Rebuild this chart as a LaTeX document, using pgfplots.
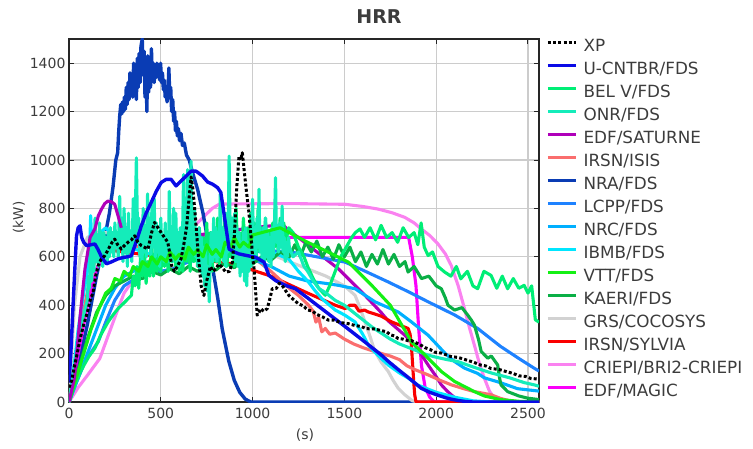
\documentclass[border=0pt]{standalone}
\usepackage{pgfplots}
\pgfplotsset{compat=1.18}
\usepackage{fontspec}
\setmainfont{DejaVu Sans}
\definecolor{cUC}{RGB}{10,10,230}
\definecolor{cBEL}{RGB}{0,238,118}
\definecolor{cONR}{RGB}{20,236,186}
\definecolor{cSAT}{RGB}{175,0,185}
\definecolor{cISIS}{RGB}{250,110,110}
\definecolor{cNRA}{RGB}{10,60,180}
\definecolor{cLCPP}{RGB}{30,130,255}
\definecolor{cNRC}{RGB}{0,175,255}
\definecolor{cIBMB}{RGB}{0,230,255}
\definecolor{cVTT}{RGB}{20,240,20}
\definecolor{cKAERI}{RGB}{10,175,70}
\definecolor{cGRS}{RGB}{210,210,210}
\definecolor{cSYL}{RGB}{250,0,0}
\definecolor{cCRI}{RGB}{250,130,240}
\definecolor{cMAG}{RGB}{250,0,250}
\definecolor{txt}{RGB}{60,60,60}
\pgfplotsset{
  sXP/.style={black, line width=3pt, dash pattern=on 3pt off 2.2pt},
  sUC/.style={cUC, line width=3.4pt},
  sBEL/.style={cBEL, line width=3.1pt},
  sONR/.style={cONR, line width=3.1pt},
  sSAT/.style={cSAT, line width=3.1pt},
  sISIS/.style={cISIS, line width=3.1pt},
  sNRA/.style={cNRA, line width=3.4pt},
  sLCPP/.style={cLCPP, line width=3.1pt},
  sNRC/.style={cNRC, line width=3.1pt},
  sIBMB/.style={cIBMB, line width=3.1pt},
  sVTT/.style={cVTT, line width=3.1pt},
  sKAERI/.style={cKAERI, line width=3.1pt},
  sGRS/.style={cGRS, line width=3.1pt},
  sSYL/.style={cSYL, line width=3.1pt},
  sCRI/.style={cCRI, line width=3.1pt},
  sMAG/.style={cMAG, line width=3.1pt},
}
\begin{document}
\begin{tikzpicture}[x=1pt,y=1pt]
\useasboundingbox (0,0) rectangle (753,448);
\begin{axis}[
  at={(69pt,46pt)}, anchor=south west, scale only axis,
  width=470pt, height=363pt,
  xmin=0, xmax=2560, ymin=0, ymax=1500,
  xtick={0,500,...,2500}, ytick={0,200,...,1400},
  grid=major, major grid style={color=black!20, line width=1.2pt},
  axis line style={color=black!85, line width=1.4pt},
  tick style={color=black!85, line width=1pt}, tick align=inside, major tick length=5pt,
  ticklabel style={font=\fontsize{14}{16}\selectfont, text=txt},
  xticklabel style={yshift=-3pt},
  /pgf/number format/assume math mode=true, /pgf/number format/1000 sep={},
  legend style={draw=none, fill=none, at={(1,1)}, anchor=north west, xshift=7pt, yshift=-1pt,
    inner sep=0pt, font=\fontsize{16.8}{18}\selectfont, text=txt, row sep=8pt,
    nodes={text height=11pt, text depth=4pt, inner sep=0pt},
    /tikz/every odd column/.append style={column sep=6pt}},
  legend cell align=left,
  legend image code/.code={\draw[#1] (0pt,5.5pt) -- (28pt,5.5pt);},
  every axis plot/.append style={line join=round},
]
% CRIEPI
\addplot[sCRI, forget plot] coordinates {(0,0) (50,60) (100,110) (168,180) (250,350) (300,450) (400,560) (500,620) (600,680) (700,740) (780,800) (820,818) (1200,820) (1504,817) (1600,808) (1685,797) (1760,782) (1829,763) (1880,740) (1919,715) (1965,688) (2010,653) (2050,612) (2082,564) (2120,480) (2154,386) (2180,310) (2208,235) (2235,160) (2262,99) (2290,45) (2316,16) (2340,0) (2560,0)};
% NRA
\addplot[sNRA, forget plot] coordinates {(0,0) (50,150) (100,320) (150,520) (190,660) (220,780) (240,890) (255,1000) (265,1030) (271,1120) (276,1180) (282,1230) (287,1190) (292,1240) (297,1200) (302,1260) (307,1210) (312,1300) (317,1230) (322,1320) (327,1250) (332,1360) (337,1270) (342,1350) (347,1260) (352,1400) (357,1290) (362,1380) (367,1250) (372,1420) (377,1300) (382,1440) (387,1320) (392,1470) (399,1500) (404,1350) (409,1450) (414,1260) (419,1420) (424,1200) (429,1430) (434,1280) (439,1400) (444,1300) (449,1460) (454,1330) (459,1400) (464,1320) (469,1390) (474,1340) (479,1400) (484,1350) (489,1380) (494,1330) (499,1400) (504,1320) (509,1360) (514,1290) (519,1330) (524,1260) (529,1300) (534,1240) (539,1280) (544,1380) (549,1260) (554,1300) (559,1200) (565,1250) (570,1160) (575,1200) (580,1120) (585,1160) (590,1100) (596,1130) (602,1080) (610,1110) (618,1060) (628,1070) (640,1020) (655,1000) (672,950) (700,880) (730,780) (760,650) (790,520) (810,430) (835,300) (870,170) (900,90) (930,40) (960,12) (990,0) (2560,0)};
% GRS
\addplot[sGRS, forget plot] coordinates {(0,0) (30,400) (60,600) (100,680) (150,700) (200,700) (300,690) (400,680) (600,670) (800,660) (1000,640) (1200,580) (1400,520) (1500,480) (1558,441) (1585,390) (1612,331) (1640,270) (1667,208) (1700,165) (1739,126) (1765,90) (1793,57) (1829,30) (1870,5) (1900,0) (2560,0)};
% MAGIC
\addplot[sMAG, forget plot] coordinates {(0,0) (50,200) (100,400) (150,550) (200,620) (300,660) (500,680) (800,690) (1100,685) (1200,680) (1850,680) (1870,600) (1890,480) (1905,300) (1920,150) (1940,60) (1965,20) (1990,0) (2560,0)};
% SATURNE (after 300 s)
\addplot[sSAT, forget plot] coordinates {(285,720) (300,690) (400,660) (500,650) (600,670) (700,690) (800,700) (900,710) (1000,720) (1100,728) (1170,728) (1197,710) (1300,650) (1400,590) (1468,550) (1600,450) (1700,370) (1739,335) (1829,276) (1883,235) (1920,195) (1956,153) (2000,105) (2028,71) (2060,45) (2082,30) (2110,12) (2140,3) (2170,0) (2560,0)};
% SYLVIA
\addplot[sSYL, forget plot] coordinates {(0,0) (50,250) (105,468) (141,591) (195,630) (300,620) (500,600) (700,590) (900,570) (1100,520) (1300,450) (1450,400) (1504,386) (1530,400) (1558,400) (1580,375) (1610,380) (1630,372) (1660,365) (1700,355) (1757,331) (1800,318) (1847,304) (1858,280) (1865,235) (1872,150) (1878,80) (1883,30) (1890,0) (2560,0)};
% ISIS
\addplot[sISIS, forget plot] coordinates {(0,0) (50,250) (105,468) (141,591) (195,646) (250,680) (300,650) (400,640) (500,660) (600,640) (700,630) (800,620) (900,620) (1000,600) (1100,540) (1200,470) (1250,440) (1305,400) (1330,375) (1345,330) (1360,350) (1377,290) (1396,304) (1420,280) (1450,285) (1500,260) (1550,240) (1600,225) (1667,208) (1750,190) (1800,175) (1840,150) (1880,135) (1956,112) (2020,90) (2082,71) (2150,55) (2208,43) (2299,30) (2350,15) (2400,5) (2450,0) (2560,0)};
% LCPP
\addplot[sLCPP, forget plot] coordinates {(0,0) (40,80) (87,167) (159,249) (200,330) (249,420) (300,480) (400,530) (500,540) (565,550) (620,570) (700,590) (800,600) (900,610) (1000,620) (1100,625) (1215,619) (1350,600) (1504,578) (1600,545) (1739,496) (1850,455) (1956,414) (2100,360) (2226,304) (2350,230) (2450,180) (2533,140) (2560,128)};
% NRC
\addplot[sNRC, forget plot] coordinates {(0,0) (50,100) (100,200) (150,300) (200,400) (250,470) (300,520) (400,560) (500,580) (600,590) (700,600) (800,610) (900,600) (1000,590) (1100,560) (1200,520) (1300,500) (1400,490) (1468,482) (1558,468) (1667,414) (1793,372) (1865,331) (1956,276) (2050,200) (2100,167) (2154,140) (2226,118) (2262,100) (2350,80) (2443,55) (2560,45)};
% IBMB
\addplot[sIBMB, forget plot] coordinates {(0,0) (20,100) (50,300) (80,450) (100,540) (112,620) (118,770) (125,640) (140,660) (170,700) (200,720) (250,680) (300,650) (400,620) (500,600) (600,610) (700,620) (800,640) (900,650) (1000,650) (1100,620) (1197,591) (1250,540) (1300,500) (1340,460) (1377,427) (1450,380) (1500,360) (1558,331) (1600,280) (1630,235) (1700,180) (1739,153) (1800,120) (1847,99) (1900,70) (2000,40) (2100,20) (2200,5) (2300,0) (2560,0)};
% KAERI
\addplot[sKAERI, forget plot] coordinates {(0,0) (50,130) (100,260) (150,370) (200,440) (250,480) (300,500) (350,520) (400,510) (450,540) (500,525) (550,550) (600,530) (650,560) (700,540) (750,570) (800,545) (850,575) (900,555) (950,590) (1000,570) (1050,600) (1100,585) (1150,620) (1200,600) (1230,650) (1260,600) (1290,660) (1320,620) (1350,665) (1380,600) (1410,640) (1440,590) (1470,650) (1500,600) (1530,640) (1560,580) (1590,620) (1620,560) (1650,610) (1680,570) (1710,630) (1740,570) (1770,610) (1800,560) (1830,580) (1847,537) (1880,560) (1920,510) (1960,520) (2000,480) (2028,468) (2050,430) (2064,400) (2100,380) (2140,390) (2172,359) (2190,340) (2208,318) (2230,260) (2245,209) (2281,181) (2300,190) (2335,153) (2345,100) (2353,71) (2389,43) (2450,25) (2497,16) (2560,10)};
% BEL V
\addplot[sBEL, forget plot] coordinates {(0,0) (32,71) (60,120) (80,150) (110,190) (141,222) (175,280) (213,331) (240,360) (267,386) (300,410) (340,441) (350,520) (360,480) (370,560) (380,470) (390,600) (400,520) (410,640) (420,490) (430,580) (440,520) (450,660) (460,520) (470,600) (480,540) (490,700) (500,540) (510,620) (520,560) (530,680) (540,540) (550,640) (560,580) (570,720) (580,560) (590,660) (600,540) (610,700) (620,540) (630,760) (640,580) (650,680) (660,540) (670,760) (680,580) (690,700) (700,560) (710,720) (720,540) (730,680) (740,520) (750,740) (760,560) (770,700) (780,540) (790,720) (800,580) (810,760) (820,560) (830,700) (840,600) (850,780) (860,560) (870,680) (880,600) (890,740) (900,560) (910,800) (920,600) (930,700) (940,580) (950,760) (960,600) (970,720) (980,560) (990,780) (1000,600) (1010,740) (1020,600) (1030,800) (1040,620) (1050,720) (1060,600) (1070,760) (1080,620) (1090,700) (1100,600) (1110,740) (1120,640) (1130,700) (1140,620) (1150,760) (1160,660) (1170,740) (1180,660) (1197,720) (1220,700) (1250,640) (1280,600) (1300,560) (1330,510) (1360,470) (1396,441) (1420,480) (1450,540) (1480,600) (1510,640) (1540,680) (1560,700) (1585,715) (1610,680) (1640,720) (1670,670) (1700,730) (1730,680) (1760,700) (1790,660) (1820,720) (1850,680) (1880,700) (1900,650) (1918,740) (1935,640) (1956,605) (1980,620) (2010,560) (2046,537) (2080,520) (2110,560) (2134,509) (2170,540) (2200,480) (2226,468) (2260,540) (2299,523) (2330,470) (2360,520) (2389,468) (2420,510) (2450,470) (2479,482) (2500,450) (2520,480) (2540,340) (2560,330)};
% ONR
\addplot[sONR, forget plot] coordinates {(0,0) (30,150) (60,300) (100,420) (106,520) (112,470) (118,640) (124,500) (130,700) (136,540) (142,760) (148,580) (154,690) (160,560) (166,740) (172,600) (178,700) (184,560) (190,700) (196,600) (202,680) (208,580) (214,700) (220,600) (226,720) (232,620) (238,700) (244,600) (250,740) (256,640) (262,700) (268,600) (276,850) (282,640) (288,760) (294,580) (300,800) (306,620) (312,720) (318,560) (324,780) (330,620) (336,700) (342,580) (350,840) (358,640) (367,1009) (374,660) (380,760) (386,600) (392,720) (398,580) (404,800) (410,620) (416,700) (422,600) (428,860) (434,640) (440,760) (446,600) (452,820) (458,640) (464,840) (470,600) (476,740) (482,620) (488,700) (494,560) (500,760) (506,600) (512,680) (518,580) (524,740) (530,600) (536,700) (542,580) (546,870) (552,640) (558,720) (564,580) (570,800) (576,620) (582,780) (588,580) (594,700) (600,560) (606,720) (612,580) (618,660) (624,940) (630,680) (636,760) (642,620) (646,960) (652,640) (658,720) (665,995) (672,620) (678,740) (684,800) (690,600) (696,700) (702,560) (708,720) (714,540) (720,680) (726,520) (732,640) (738,480) (744,620) (750,460) (756,560) (764,414) (770,620) (776,700) (782,580) (788,760) (794,600) (800,720) (806,580) (812,700) (818,600) (824,860) (830,620) (836,720) (842,580) (848,700) (854,560) (860,780) (866,620) (872,1016) (878,700) (884,640) (890,760) (896,600) (902,780) (908,580) (914,720) (920,560) (926,700) (932,520) (938,660) (944,540) (950,700) (956,500) (962,720) (968,480) (974,660) (980,540) (986,640) (992,560) (1000,838) (1006,620) (1012,720) (1018,600) (1024,760) (1030,640) (1035,879) (1040,620) (1046,700) (1052,580) (1058,720) (1064,560) (1070,760) (1076,600) (1082,700) (1088,580) (1094,680) (1100,560) (1106,720) (1112,600) (1118,700) (1125,927) (1130,660) (1136,720) (1142,620) (1148,740) (1154,640) (1161,810) (1166,620) (1172,680) (1178,580) (1184,660) (1190,600) (1196,680) (1200,640) (1220,600) (1250,620) (1280,560) (1300,540) (1330,500) (1360,470) (1400,450) (1450,420) (1500,400) (1550,370) (1600,340) (1650,310) (1700,285) (1750,260) (1800,240) (1850,225) (1900,210) (1950,195) (2000,185) (2060,175) (2118,167) (2200,145) (2300,120) (2400,100) (2480,80) (2533,71) (2560,65)};
% VTT
\addplot[sVTT, forget plot] coordinates {(0,0) (40,100) (80,200) (120,300) (160,380) (200,450) (230,470) (250,510) (280,500) (300,540) (330,520) (350,560) (380,540) (400,580) (430,560) (450,600) (480,570) (500,600) (530,580) (550,620) (580,590) (600,610) (630,590) (650,640) (680,610) (700,630) (730,600) (750,650) (780,610) (800,630) (830,600) (850,660) (880,640) (900,680) (930,640) (950,660) (980,640) (1000,690) (1050,700) (1100,710) (1150,720) (1200,700) (1300,660) (1414,619) (1522,578) (1649,482) (1750,400) (1865,249) (1956,181) (2028,126) (2100,85) (2208,43) (2262,25) (2350,10) (2450,3) (2560,0)};
% SATURNE (first 300 s, drawn on top)
\addplot[sSAT, forget plot] coordinates {(0,0) (30,100) (60,350) (87,550) (115,680) (141,715) (160,770) (177,797) (195,820) (211,830) (230,828) (249,817) (267,770) (285,720)};
% U-CNTBR
\addplot[sUC, forget plot] coordinates {(0,80) (10,200) (23,413) (35,600) (41,687) (50,720) (60,728) (69,680) (80,660) (96,646) (120,650) (141,653) (157,632) (177,600) (204,571) (231,579) (265,591) (300,598) (320,600) (340,605) (365,660) (394,728) (420,780) (448,825) (475,870) (502,907) (529,920) (556,920) (583,893) (610,913) (640,935) (665,954) (692,954) (727,934) (755,909) (782,900) (809,886) (827,866) (840,800) (854,728) (872,632) (900,620) (926,612) (970,605) (1017,598) (1062,578) (1089,523) (1125,502) (1179,482) (1233,468) (1300,430) (1400,372) (1500,314) (1600,255) (1700,195) (1739,168) (1800,130) (1850,100) (1918,57) (1965,40) (2010,28) (2050,18) (2080,12) (2120,6) (2160,2) (2200,0) (2560,0)};
% XP
\addplot[sXP, forget plot] coordinates {(0,60) (15,90) (30,150) (45,200) (60,260) (80,320) (100,370) (115,420) (130,450) (145,520) (159,564) (175,590) (195,605) (210,625) (220,640) (235,660) (249,673) (265,650) (285,632) (300,645) (321,660) (340,670) (358,687) (375,660) (394,646) (410,640) (430,632) (450,700) (466,742) (485,720) (502,700) (520,680) (538,660) (550,610) (560,560) (574,540) (590,560) (610,591) (625,650) (640,720) (655,850) (665,930) (675,880) (690,750) (705,600) (720,480) (735,440) (750,500) (770,560) (785,540) (800,550) (815,570) (830,560) (854,537) (875,540) (890,578) (900,680) (908,800) (915,900) (926,1016) (935,1000) (944,1030) (955,950) (968,860) (980,783) (992,680) (1000,600) (1008,550) (1017,450) (1025,359) (1035,370) (1044,386) (1060,375) (1080,386) (1095,430) (1107,468) (1130,470) (1145,490) (1161,482) (1180,460) (1197,441) (1220,425) (1251,405) (1275,398) (1300,380) (1325,376) (1350,362) (1380,352) (1414,338) (1445,338) (1480,328) (1520,324) (1558,316) (1590,312) (1620,303) (1660,302) (1703,295) (1730,290) (1750,278) (1775,272) (1793,262) (1820,260) (1847,253) (1865,254) (1883,247) (1910,238) (1940,224) (1965,218) (1992,206) (2030,202) (2080,188) (2120,184) (2172,172) (2205,164) (2240,153) (2270,149) (2299,138) (2340,135) (2389,124) (2420,118) (2450,108) (2485,106) (2516,97) (2560,95)};
% legend
\addlegendimage{sXP}\addlegendentry{XP}
\addlegendimage{sUC}\addlegendentry{U-CNTBR/FDS}
\addlegendimage{sBEL}\addlegendentry{BEL V/FDS}
\addlegendimage{sONR}\addlegendentry{ONR/FDS}
\addlegendimage{sSAT}\addlegendentry{EDF/SATURNE}
\addlegendimage{sISIS}\addlegendentry{IRSN/ISIS}
\addlegendimage{sNRA}\addlegendentry{NRA/FDS}
\addlegendimage{sLCPP}\addlegendentry{LCPP/FDS}
\addlegendimage{sNRC}\addlegendentry{NRC/FDS}
\addlegendimage{sIBMB}\addlegendentry{IBMB/FDS}
\addlegendimage{sVTT}\addlegendentry{VTT/FDS}
\addlegendimage{sKAERI}\addlegendentry{KAERI/FDS}
\addlegendimage{sGRS}\addlegendentry{GRS/COCOSYS}
\addlegendimage{sSYL}\addlegendentry{IRSN/SYLVIA}
\addlegendimage{sCRI}\addlegendentry{CRIEPI/BRI2-CRIEPI}
\addlegendimage{sMAG}\addlegendentry{EDF/MAGIC}
\end{axis}
\node[font=\bfseries\fontsize{19}{22}\selectfont, text=txt] at (379,431) {HRR};
\node[font=\fontsize{14}{16}\selectfont, text=txt] at (305,13) {(s)};
\node[font=\fontsize{13.5}{16}\selectfont, text=txt, rotate=90] at (19,230.5) {(kW)};
\end{tikzpicture}
\end{document}
